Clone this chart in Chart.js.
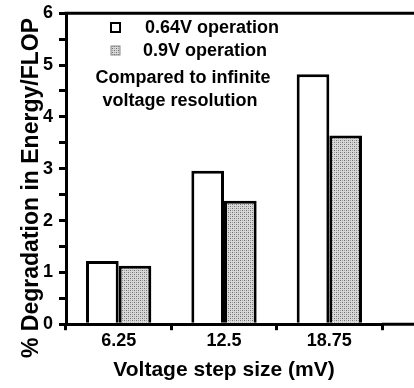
<!DOCTYPE html>
<html>
<head>
<meta charset="utf-8">
<script src="https://cdn.jsdelivr.net/npm/chart.js@4"></script>
<style>
  html, body { margin: 0; padding: 0; background: #fff; overflow: hidden; }
  #wrap { width: 414px; height: 388px; }
</style>
</head>
<body>
<div id="wrap"><canvas id="chart" width="414" height="388"></canvas></div>
<script>
// chart values
const categories = ['6.25', '12.5', '18.75'];
const lowVoltage = [1.22, 2.96, 4.82];   // 0.64V operation
const highVoltage = [1.13, 2.38, 3.64];  // 0.9V operation
const seriesNames = ['0.64V operation', '0.9V operation'];
const noteLines = ['Compared to infinite', 'voltage resolution'];
const yTitle = '% Degradation in Energy/FLOP';

const FONT = '"Liberation Sans", Arial, sans-serif';

// stippled gray fill like the printed figure
function makeStipple() {
    const c = document.createElement('canvas');
    c.width = 4;
    c.height = 4;
    const g = c.getContext('2d');
    g.fillStyle = '#d8d8d8';
    g.fillRect(0, 0, 4, 4);
    g.fillStyle = '#6e6e6e';
    g.fillRect(0, 0, 1, 1);
    g.fillRect(2, 2, 1, 1);
    g.fillStyle = '#a0a0a0';
    g.fillRect(2, 0, 1, 1);
    g.fillRect(0, 2, 1, 1);
    return g.createPattern(c, 'repeat');
}
const stipple = makeStipple();

// frame lines run off the right edge, y title sits a bit low, legend inside the plot
const framePlugin = {
    id: 'frame',
    afterDraw(chart) {
        const ctx = chart.ctx;
        const area = chart.chartArea;
        ctx.save();
        ctx.strokeStyle = '#000';
        ctx.lineWidth = 3;
        ctx.beginPath();
        ctx.moveTo(area.left - 1.5, area.top);
        ctx.lineTo(chart.width, area.top);
        ctx.moveTo(area.right, area.bottom);
        ctx.lineTo(chart.width, area.bottom);
        ctx.stroke();

        // y axis title
        ctx.save();
        ctx.translate(32, 188);
        ctx.rotate(-Math.PI / 2);
        ctx.font = 'bold 23px ' + FONT;
        ctx.textAlign = 'center';
        ctx.textBaseline = 'middle';
        ctx.fillStyle = '#000';
        ctx.fillText(yTitle, 0, 0);
        ctx.restore();

        // legend
        ctx.font = 'bold 18px ' + FONT;
        ctx.textBaseline = 'middle';
        ctx.textAlign = 'left';
        ctx.fillStyle = '#000';
        // white box
        ctx.lineWidth = 2;
        ctx.strokeRect(111, 23, 9, 9);
        ctx.fillText(seriesNames[0], 145, 28);
        // stippled box
        ctx.fillStyle = stipple;
        ctx.fillRect(111, 46, 9, 9);
        ctx.lineWidth = 1;
        ctx.strokeStyle = '#888';
        ctx.strokeRect(111, 46, 9, 9);
        ctx.fillStyle = '#000';
        ctx.fillText(seriesNames[1], 143, 51);

        ctx.textAlign = 'center';
        ctx.fillText(noteLines[0], 183, 78);
        ctx.fillText(noteLines[1], 180, 101);
        ctx.restore();
    }
};

new Chart(document.getElementById('chart').getContext('2d'), {
    type: 'bar',
    data: {
        labels: categories,
        datasets: [
            {
                label: seriesNames[0],
                data: lowVoltage,
                backgroundColor: '#fff',
                borderColor: '#000',
                borderWidth: 3
            },
            {
                label: seriesNames[1],
                data: highVoltage,
                backgroundColor: stipple,
                borderColor: '#000',
                borderWidth: 3
            }
        ]
    },
    options: {
        responsive: false,
        animation: false,
        devicePixelRatio: 1,
        layout: { padding: { top: 1, right: 32, left: 0, bottom: 5 } },
        categoryPercentage: 0.62,
        barPercentage: 1.0,
        plugins: {
            legend: { display: false },
            tooltip: { enabled: false }
        },
        scales: {
            x: {
                grid: {
                    offset: true,
                    drawOnChartArea: false,
                    color: '#000',
                    lineWidth: 3,
                    tickLength: 6
                },
                border: { color: '#000', width: 3 },
                ticks: {
                    color: '#000',
                    font: { family: FONT, size: 18, weight: 'bold' },
                    padding: 0
                },
                title: {
                    display: true,
                    text: 'Voltage step size (mV)',
                    color: '#000',
                    font: { family: FONT, size: 21, weight: 'bold' },
                    padding: { top: 6, bottom: 0 }
                }
            },
            y: {
                min: 0,
                max: 6,
                afterFit: scale => { scale.width = 66; },
                grid: {
                    drawOnChartArea: false,
                    color: '#000',
                    lineWidth: 3,
                    tickLength: 7
                },
                border: { color: '#000', width: 3 },
                ticks: {
                    stepSize: 0.5,
                    autoSkip: false,
                    color: '#000',
                    font: { family: FONT, size: 18, weight: 'bold', lineHeight: 0.8 },
                    padding: 6,
                    callback: v => Number.isInteger(v) ? v : ''
                }
            }
        }
    },
    plugins: [framePlugin]
});
</script>
</body>
</html>
